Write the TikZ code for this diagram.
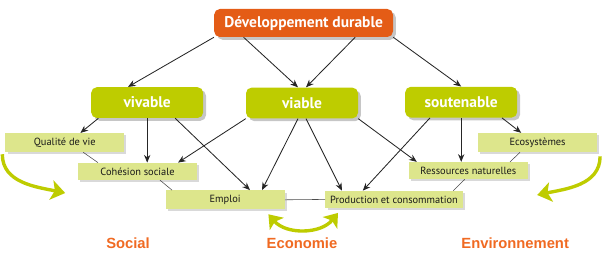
\documentclass[tikz,border=0pt]{standalone}
\usepackage{fontspec}
\setmainfont{PT Sans}
\newfontfamily\labelfont{Liberation Sans}
\usetikzlibrary{arrows.meta, shadows}

\definecolor{ddorange}{RGB}{228,92,22}
\definecolor{ddgreen}{RGB}{190,204,0}
\definecolor{ddlight}{RGB}{221,230,140}
\definecolor{ddtext}{RGB}{240,106,34}

\begin{document}
\begin{tikzpicture}[
    font=\small,
    root/.style={rectangle, rounded corners=4pt, fill=ddorange, text=white,
                 font=\fontsize{11}{13}\selectfont\bfseries,
                 minimum width=4.47cm, minimum height=0.7cm, text centered,
                 drop shadow={shadow xshift=2pt, shadow yshift=-2pt, opacity=0.45}},
    pillar/.style={rectangle, rounded corners=4pt, fill=ddgreen, text=white,
                   font=\fontsize{11}{13}\selectfont\bfseries,
                   minimum width=2.8cm, minimum height=0.77cm, text centered,
                   drop shadow={shadow xshift=2pt, shadow yshift=-2pt, opacity=0.45}},
    item/.style={rectangle, fill=ddlight, text=black!90,
                 font=\fontsize{7.4}{8.5}\selectfont,
                 minimum width=2.97cm, minimum height=0.42cm, text centered,
                 drop shadow={shadow xshift=1.5pt, shadow yshift=-1.5pt, opacity=0.3}},
    sector/.style={text=ddtext, font=\labelfont\fontsize{10.5}{12}\selectfont\bfseries},
    arr/.style={-{Stealth[length=5.5pt, width=4.5pt]}, semithick, black!85},
    link/.style={thin, black!70},
    swoop/.style={-{Stealth[length=10pt, width=14pt, inset=2.5pt]}, line width=2.4pt, ddgreen},
    swoopboth/.style={{Stealth[length=9pt, width=13pt, inset=2pt]}-{Stealth[length=9pt, width=13pt, inset=2pt]},
                      line width=2.4pt, ddgreen},
    every node/.style={align=center}
  ]

  \useasboundingbox (-7.59,0.575) rectangle (7.66,-5.925);

  \node[root]   (dd)         at ( 0,    0)     {Développement durable};

  \node[pillar] (vivable)    at (-3.91,-1.99)  {vivable};
  \node[pillar] (viable)     at (-0.04,-2.0)   {viable};
  \node[pillar] (soutenable) at ( 3.94,-1.98)  {soutenable};

  \node[item]   (qualite)    at (-5.97,-2.99)  {Qualité de vie};
  \node[item]   (cohesion)   at (-4.15,-3.71)  {Cohésion sociale};
  \node[item]   (emploi)     at (-1.96,-4.42)  {Emploi};
  \node[item, minimum width=3.3cm]
                (production) at ( 2.26,-4.41)  {Production et consommation};
  \node[item]   (ressources) at ( 4.12,-3.69)  {Ressources naturelles};
  \node[item]   (ecosys)     at ( 5.85,-2.99)  {Ecosystèmes};

  \node[sector] (social)     at (-4.39,-5.5)   {Social};
  \node[sector] (economie)   at (-0.04,-5.5)   {Economie};
  \node[sector] (environ)    at ( 5.29,-5.5)   {Environnement};

  \coordinate (socialtip) at (-5.96,-4.25);
  \coordinate (envtip)    at ( 5.84,-4.3);

  % Top level arrows
  \draw[arr] (dd.south west)              -- ([xshift=-0.48cm]vivable.north);
  \draw[arr] ([xshift=-1.5cm]dd.south)    -- ([xshift=-0.1cm]viable.north);
  \draw[arr] ([xshift=1.29cm]dd.south)    -- ([xshift=0.1cm]viable.north);
  \draw[arr] (dd.south east)              -- (soutenable.north);

  % vivable
  \draw[arr] ([xshift=-1.22cm]vivable.south) -- ([xshift=0.39cm]qualite.north);
  \draw[arr] (vivable)                       -- (vivable |- cohesion.north);
  \draw[arr] ([xshift=0.7cm]vivable.south)   -- ([xshift=0.62cm]emploi.north);

  % viable
  \draw[arr] (viable.south west)             -- ([xshift=1.01cm]cohesion.north);
  \draw[arr] ([xshift=-0.1cm]viable.south)   -- ([xshift=0.92cm]emploi.north);
  \draw[arr] ([xshift=0.1cm]viable.south)    -- ([xshift=-1.3cm]production.north);
  \draw[arr] (viable.south east)             -- ([xshift=-1.29cm]ressources.north);

  % soutenable
  \draw[arr] ([xshift=-0.78cm]soutenable.south) -- ([xshift=-0.78cm]production.north);
  \draw[arr] (soutenable)                       -- (soutenable |- ressources.north);
  \draw[arr] ([xshift=1.02cm]soutenable.south)  -- ([xshift=-0.41cm]ecosys.north);

  % Links between the items
  \draw[link] ([xshift=0.46cm]qualite.south)     -- ([xshift=-0.99cm]cohesion.north);
  \draw[link] ([xshift=0.56cm]cohesion.south)    -- ([xshift=-1.33cm]emploi.north);
  \draw[link] (emploi.east)                      -- (production.west);
  \draw[link] ([xshift=-0.09cm]ressources.south) -- ([xshift=1.48cm]production.north);
  \draw[link] ([xshift=-0.44cm]ecosys.south)     -- ([xshift=1.04cm]ressources.north);

  % Green swoops
  \draw[swoop] ([xshift=-0.07cm, yshift=-0.05cm]qualite.south west)
               to[out=-90, in=168] (socialtip);
  \draw[swoop] ([xshift=0.07cm, yshift=-0.1cm]ecosys.south east)
               to[out=-90, in=12] (envtip);
  \draw[swoopboth] ([xshift=1.08cm, yshift=-0.12cm]emploi.south)
                   to[bend right=50] ([xshift=-1.4cm, yshift=-0.12cm]production.south);

  \end{tikzpicture}
\end{document}
